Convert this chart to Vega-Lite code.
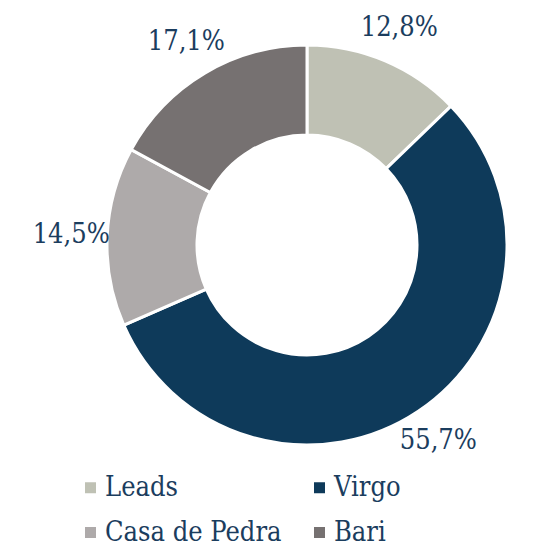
{
  "$schema": "https://vega.github.io/schema/vega-lite/v6.json",
  "width": 472,
  "height": 490,
  "autosize": "none",
  "padding": {"left": 71, "top": 0, "right": 0, "bottom": 56},
  "background": "white",
  "config": {"view": {"stroke": null}, "font": "DejaVu Serif Condensed, DejaVu Serif"},
  "data": {
    "values": [
      {"name": "Leads", "share": 12.8, "label": "12,8%", "k": 1},
      {"name": "Virgo", "share": 55.7, "label": "55,7%", "k": 2},
      {"name": "Casa de Pedra", "share": 14.5, "label": "14,5%", "k": 3},
      {"name": "Bari", "share": 17.1, "label": "17,1%", "k": 4}
    ]
  },
  "encoding": {
    "theta": {"field": "share", "type": "quantitative", "stack": true},
    "order": {"field": "k", "type": "quantitative"}
  },
  "layer": [
    {
      "mark": {"type": "arc", "outerRadius": 200, "innerRadius": 110, "stroke": "white", "strokeWidth": 3},
      "encoding": {
        "color": {
          "field": "name",
          "type": "nominal",
          "scale": {
            "domain": ["Leads", "Virgo", "Casa de Pedra", "Bari"],
            "range": ["#bfc1b4", "#0e3a5a", "#aeaaaa", "#767171"]
          },
          "legend": {
            "title": null,
            "orient": "none",
            "legendX": 6,
            "legendY": 474,
            "direction": "horizontal",
            "columns": 2,
            "symbolType": "square",
            "symbolSize": 121,
            "symbolStrokeWidth": 0,
            "labelFontSize": 27,
            "labelFont": "DejaVu Serif Condensed, DejaVu Serif",
            "labelColor": "#1b3d5e",
            "labelOffset": 1,
            "labelLimit": 400,
            "columnPadding": 24,
            "rowPadding": 17,
            "padding": 0
          }
        }
      }
    },
    {
      "mark": {"type": "text", "radius": 236, "fontSize": 27, "font": "DejaVu Serif Condensed, DejaVu Serif", "color": "#1b3d5e"},
      "encoding": {"text": {"field": "label"}}
    }
  ]
}
